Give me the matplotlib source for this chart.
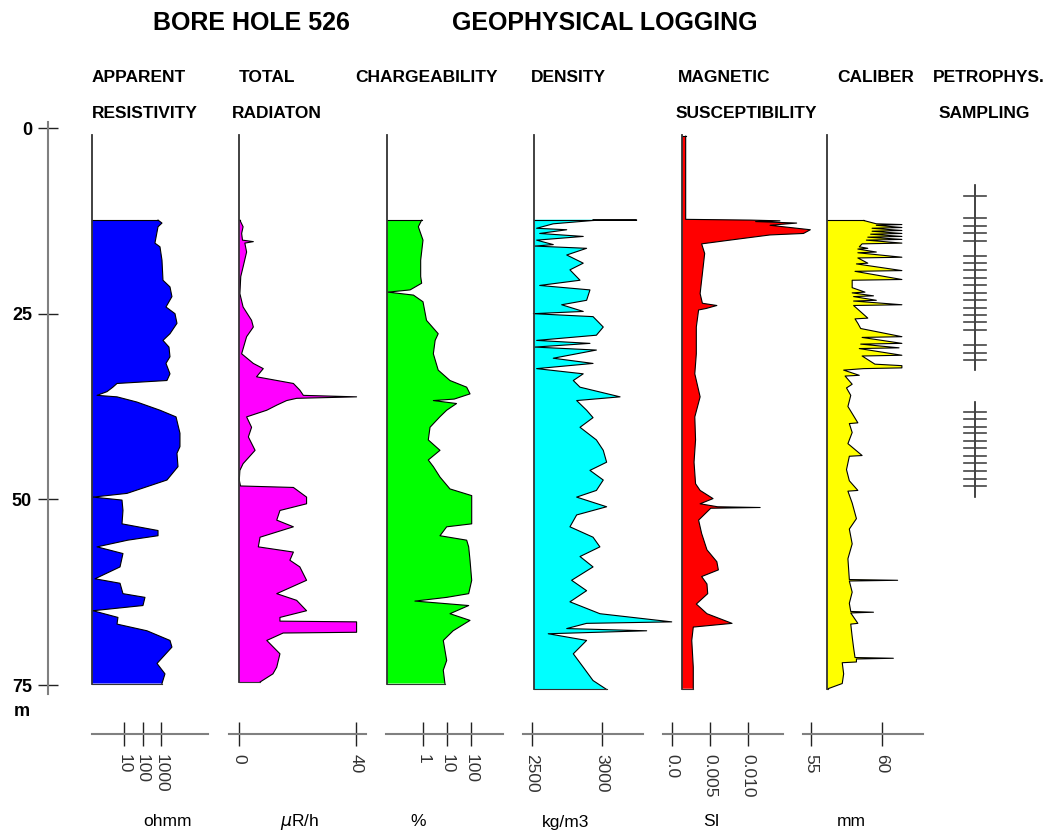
import numpy as np
import matplotlib
matplotlib.use("Agg")
import matplotlib.pyplot as plt
from matplotlib.ticker import NullLocator

# ---------------- data ----------------
res_depth = [12.4, 12.8, 13.3, 15.5, 16.0, 17.8, 20.5, 21.4, 22.7, 24.1, 25.0, 26.3, 27.7, 28.6, 29.5, 30.8, 31.7, 33.1, 34.0, 34.4,
             34.9, 35.5, 36.0, 36.2, 36.9, 38.0, 38.9, 41.1, 42.9, 43.8, 45.6, 47.4, 49.2, 49.7, 50.1, 51.5, 53.3, 54.2, 54.9, 55.5,
             56.4, 57.3, 59.1, 60.7, 61.3, 62.7, 63.2, 64.3, 65.0, 65.9, 66.8, 67.7, 69.0, 69.9, 72.1, 73.5, 74.8]
res_vals = [690, 1130, 690, 470, 880, 1130, 1280, 3060, 3900, 1860, 5700, 7300, 3060, 1280, 2700, 3060, 1860, 3060, 2100, 4.2,
            2.5, 1.2, 0.35, 4.2, 50, 880, 6500, 10600, 10600, 7300, 8300, 2100, 14.5, 0.21, 7.8, 8.8, 7.8, 690, 690, 16,
            0.35, 8.8, 6.1, 0.27, 6.1, 8.8, 136, 106, 0.21, 4.7, 4.2, 175, 3060, 3900, 610, 1640, 1130]

rad_depth = [12.4, 13.3, 14.2, 15.1, 15.3, 15.5, 16.7, 18.7, 20.0, 22.3, 24.1, 25.9, 26.8, 28.1, 30.4, 31.7, 32.4, 33.5, 34.4, 35.3,
             36.0, 36.2, 36.4, 36.7, 37.3, 38.0, 38.9, 40.3, 41.6, 43.4, 45.2, 46.1, 47.4, 48.2, 48.4, 49.7, 50.6, 51.5, 52.8, 53.7,
             55.1, 56.4, 57.1, 58.2, 59.1, 60.9, 62.7, 63.6, 65.0, 65.9, 66.4, 66.5, 67.9, 68.0, 69.0, 70.8, 72.6, 73.5, 74.6]
rad_vals = [0.3, 1.4, 0.9, 1.2, 4.9, 2.0, 2.6, 1.4, 0.6, 0.3, 1.4, 4.3, 4.9, 2.6, 0.9, 4.9, 8.3, 6.0, 18.6, 20.8,
            22.0, 40.2, 19.7, 16.3, 13.0, 9.5, 2.6, 4.3, 3.2, 5.5, 1.4, 0.3, 0.1, 0.5, 18.6, 23.1, 23.1, 14.0, 12.9, 18.6,
            7.2, 6.6, 18.6, 17.4, 20.8, 23.1, 12.9, 19.7, 23.1, 14.0, 14.0, 40.2, 40.2, 15.1, 9.5, 14.0, 12.9, 11.6, 7.2]

chg_depth = [12.4, 13.3, 15.1, 17.8, 20.0, 20.9, 21.8, 22.1, 22.5, 23.4, 25.9, 27.7, 28.6, 30.4, 32.6, 34.0, 34.9, 35.8, 36.5, 36.7,
             37.1, 38.0, 38.9, 40.3, 42.0, 43.4, 44.7, 45.6, 47.0, 48.6, 49.5, 53.3, 53.7, 54.9, 55.5, 56.4, 58.2, 60.9, 62.7, 63.2,
             63.7, 64.3, 65.4, 66.3, 67.7, 69.0, 71.7, 73.0, 74.8]
chg_vals = [0.88, 0.64, 1.0, 0.8, 0.8, 0.88, 0.29, 0.035, 0.4, 1.0, 1.4, 4.3, 3.2, 2.7, 4.3, 13.3, 66, 91, 20, 2.7,
            25, 9.7, 5.0, 1.96, 1.66, 5.1, 1.66, 2.7, 5.1, 13.3, 107, 107, 9.7, 5.1, 66, 80, 91, 107, 80, 9.7,
            0.46, 80, 13.3, 91, 18, 7.0, 9.7, 7.0, 8.2]

den_depth = [12.35, 12.4, 12.45, 12.9, 13.5, 13.7, 14.2, 14.6, 15.1, 15.7, 15.9, 16.2, 17.1, 18.2, 19.1, 20.5, 21.2, 21.8, 23.2, 23.8,
             24.7, 25.0, 25.4, 26.8, 27.9, 28.6, 29.0, 29.5, 29.9, 31.0, 31.7, 32.4, 33.1, 34.0, 34.9, 36.2, 36.7, 38.0, 39.0, 40.3,
             42.0, 43.4, 45.0, 46.1, 47.4, 48.8, 49.7, 51.0, 52.1, 53.7, 55.1, 56.4, 57.7, 59.1, 60.9, 62.3, 63.8, 65.4, 66.5, 66.7,
             67.4, 67.7, 68.1, 69.0, 70.8, 72.6, 74.4, 75.6]
den_vals = [2936, 3248, 2936, 2652, 2533, 2748, 2555, 2866, 2533, 2652, 2520, 2890, 2748, 2866, 2771, 2843, 2555, 2914, 2890, 2712,
            2866, 2510, 2936, 3009, 2960, 2533, 2914, 2520, 2960, 2652, 2936, 2533, 2866, 2795, 2843, 3129, 2819, 2890, 2936, 2843,
            2960, 3009, 3033, 2914, 3009, 2960, 2819, 3033, 2819, 2771, 2936, 2985, 2843, 2936, 2783, 2890, 2771, 2985, 3498, 2890,
            2748, 3319, 2616, 2890, 2795, 2866, 2936, 3033]

mag_depth = [1.1, 12.3, 12.4, 12.5, 12.6, 12.8, 13.1, 13.7, 14.2, 14.4, 15.1, 15.6, 16.9, 18.7, 20.5, 22.3, 23.6, 23.9, 24.3, 24.5,
             26.8, 30.4, 33.1, 36.2, 38.9, 42.0, 45.0, 47.9, 48.8, 49.9, 50.6, 51.0, 51.1, 51.2, 52.8, 54.6, 56.8, 58.4, 59.5, 60.4,
             61.4, 62.7, 64.1, 65.4, 66.7, 67.2, 69.0, 72.6, 75.5]
mag_vals = [0.0018, 0.0018, 0.0103, 0.0142, 0.0110, 0.0164, 0.0129, 0.0182, 0.0173, 0.0129, 0.0076, 0.0039, 0.0043, 0.0041, 0.0039,
            0.0037, 0.0040, 0.0059, 0.0045, 0.0035, 0.0032, 0.0032, 0.0030, 0.0037, 0.0030, 0.0031, 0.0029, 0.0031, 0.0037, 0.0054,
            0.0037, 0.0060, 0.0116, 0.0051, 0.0035, 0.0039, 0.0046, 0.0059, 0.0061, 0.0039, 0.0046, 0.0047, 0.0032, 0.0046, 0.0079,
            0.0028, 0.0026, 0.0028, 0.0028]

cal_depth = [12.45, 12.7, 12.9, 13.0, 13.1, 13.4, 13.5, 13.8, 13.9, 14.2, 14.3, 14.6, 14.7, 15.0, 15.1, 15.5, 15.6, 16.0, 16.2, 16.3,
             16.7, 16.8, 17.4, 17.5, 18.2, 18.3, 19.2, 19.3, 20.4, 20.5, 21.5, 22.1, 22.2, 22.6, 22.7, 23.2, 23.3, 23.8, 23.9, 25.6,
             25.7, 26.3, 27.0, 28.1, 28.2, 29.0, 29.1, 29.6, 29.7, 30.6, 30.7, 31.8, 32.0, 32.3, 32.4, 32.6, 33.3, 33.4, 34.5, 35.0,
             36.0, 37.5, 39.7, 39.8, 41.0, 42.5, 44.1, 44.2, 46.0, 47.5, 48.8, 48.9, 50.5, 52.6, 54.0, 56.0, 58.0, 60.8, 60.9, 61.0,
             62.5, 64.0, 65.1, 65.2, 65.3, 66.7, 66.8, 68.5, 70.0, 71.3, 71.4, 71.5, 71.9, 72.0, 73.5, 74.8, 75.5]
cal_vals = [58.7, 59.2, 59.6, 61.4, 59.6, 61.4, 59.3, 61.4, 59.3, 61.4, 59.2, 61.4, 59.0, 61.4, 58.9, 61.4, 58.6, 58.4, 59.0, 58.3,
            59.6, 58.3, 61.4, 58.3, 59.0, 58.2, 61.4, 58.1, 61.4, 57.9, 57.9, 58.8, 57.9, 59.4, 58.0, 59.6, 58.0, 61.4, 58.0, 59.0,
            58.1, 58.3, 58.5, 61.4, 58.6, 61.4, 58.5, 61.2, 58.4, 61.4, 58.6, 59.5, 61.4, 61.4, 58.7, 57.3, 58.4, 57.4, 57.9, 57.5,
            57.8, 57.6, 58.3, 57.7, 57.9, 57.6, 58.6, 57.7, 57.5, 57.7, 58.3, 57.6, 57.9, 58.2, 57.7, 57.9, 57.6, 57.7, 61.1, 57.7,
            57.9, 57.7, 57.8, 59.4, 57.8, 58.3, 57.8, 57.9, 58.0, 58.1, 60.8, 58.2, 58.2, 57.2, 57.3, 57.2, 56.2]

sampling_group1 = [9.2, 12.1, 13.2, 14.2, 15.2, 17.3, 18.2, 19.1, 20.2, 21.2, 22.2, 23.2, 24.3, 25.2, 26.1, 27.2, 29.2, 30.3, 31.3]
sampling_group2 = [38.3, 39.2, 40.3, 41.1, 42.2, 43.1, 44.2, 45.1, 46.2, 47.2, 48.2]
sampling_spans = [(7.7, 32.6), (36.9, 49.7)]

depth_ticks = [0, 25, 50, 75]

res_ticks, res_ticklabels = [10, 100, 1000], ["10", "100", "1000"]
rad_ticks, rad_ticklabels = [0, 40], ["0", "40"]
chg_ticks, chg_ticklabels = [1, 10, 100], ["1", "10", "100"]
den_ticks, den_ticklabels = [2500, 3000], ["2500", "3000"]
mag_ticks, mag_ticklabels = [0.0, 0.005, 0.010], ["0.0", "0.005", "0.010"]
cal_ticks, cal_ticklabels = [55, 60], ["55", "60"]

# ---------------- layout ----------------
W, H = 1050, 836
FONT = "Liberation Sans"
plt.rcParams["font.family"] = [FONT, "DejaVu Sans"]
fig = plt.figure(figsize=(W / 100, H / 100), dpi=100)
fig.patch.set_facecolor("white")

Y0, Y75 = 128.0, 685.0
PPM = (Y75 - Y0) / 75.0
D_TOP, D_BOT = -1.0, 77.0


def dpx(d):
    return Y0 + d * PPM


def add_axes_px(x0, x1, y0, y1):
    return fig.add_axes([x0 / W, 1 - y1 / H, (x1 - x0) / W, (y1 - y0) / H])


def make_map(kind, pa, va, pb, vb):
    if kind == "log":
        la, lb = np.log10(va), np.log10(vb)
        return lambda p: 10 ** (la + (p - pa) * (lb - la) / (pb - pa))
    return lambda p: va + (p - pa) * (vb - va) / (pb - pa)


tracks = [
    dict(kind="log", a=(124, 10), b=(161, 1000), span=(92, 208), base=92, color="#0000ff",
         depth=res_depth, vals=res_vals, ticks=res_ticks, labels=res_ticklabels, unit="ohmm", ux=167),
    dict(kind="linear", a=(239, 0), b=(356, 40), span=(229, 366), base=239, color="#ff00ff",
         depth=rad_depth, vals=rad_vals, ticks=rad_ticks, labels=rad_ticklabels, unit=r"$\mu$R/h", ux=300),
    dict(kind="log", a=(423, 1), b=(471, 100), span=(386, 503), base=387, color="#00ff00",
         depth=chg_depth, vals=chg_vals, ticks=chg_ticks, labels=chg_ticklabels, unit="%", ux=418),
    dict(kind="linear", a=(532, 2500), b=(602, 3000), span=(523, 643), base=534, color="#00ffff",
         depth=den_depth, vals=den_vals, ticks=den_ticks, labels=den_ticklabels, unit="kg/m3", ux=566),
    dict(kind="linear", a=(672, 0.0), b=(748, 0.010), span=(663, 783), base=682, color="#ff0000",
         depth=mag_depth, vals=mag_vals, ticks=mag_ticks, labels=mag_ticklabels, unit="SI", ux=711),
    dict(kind="linear", a=(811, 55), b=(882, 60), span=(803, 923), base=827, color="#ffff00",
         depth=cal_depth, vals=cal_vals, ticks=cal_ticks, labels=cal_ticklabels, unit="mm", ux=851),
]

SCALE_Y = 733
UNIT_Y = 822

for t in tracks:
    m = make_map(t["kind"], t["a"][0], t["a"][1], t["b"][0], t["b"][1])
    x0, x1 = t["span"]
    xl = (m(x0), m(x1))
    base = m(t["base"])

    ax = add_axes_px(x0, x1, dpx(D_TOP), dpx(D_BOT))
    if t["kind"] == "log":
        ax.set_xscale("log")
    ax.set_xlim(*xl)
    ax.set_ylim(D_BOT, D_TOP)
    ax.axis("off")
    d = np.asarray(t["depth"], float)
    v = np.asarray(t["vals"], float)
    ax.fill_betweenx(d, base, v, facecolor=t["color"], edgecolor="none", clip_on=False, zorder=2)
    ax.plot(v, d, color="black", lw=0.8, clip_on=False, zorder=3)
    ax.plot([base, v[0]], [d[0], d[0]], color="black", lw=0.8, clip_on=False, zorder=3)
    ax.plot([base, v[-1]], [d[-1], d[-1]], color="#333333", lw=0.8, clip_on=False, zorder=3)
    ax.plot([base, base], [1.0, d[-1]], color="#333333", lw=1.3, clip_on=False, zorder=4)

    sax = add_axes_px(x0, x1, SCALE_Y - 0.5, SCALE_Y + 0.5)
    if t["kind"] == "log":
        sax.set_xscale("log")
    sax.set_xlim(*xl)
    sax.set_ylim(0, 1)
    sax.set_facecolor("none")
    for s in ("top", "left", "right"):
        sax.spines[s].set_visible(False)
    sax.spines["bottom"].set_color("#808080")
    sax.spines["bottom"].set_linewidth(1.5)
    sax.set_yticks([])
    sax.set_xticks(t["ticks"])
    sax.set_xticklabels(t["labels"])
    sax.xaxis.set_minor_locator(NullLocator())
    sax.tick_params(axis="x", direction="inout", length=17, width=1.0, color="#222222",
                    labelrotation=-90, labelsize=12.5, pad=6, labelcolor="#333333")
    fig.text(t["ux"] / W, 1 - UNIT_Y / H, t["unit"], ha="center", va="center", fontsize=12.5)

# depth axis
dax = add_axes_px(48, 49, dpx(D_TOP), dpx(D_BOT))
dax.set_ylim(D_BOT, D_TOP)
dax.set_xlim(0, 1)
dax.set_facecolor("none")
for s in ("top", "bottom", "right"):
    dax.spines[s].set_visible(False)
dax.spines["left"].set_color("#808080")
dax.spines["left"].set_linewidth(1.5)
dax.spines["left"].set_bounds(-0.8, 76.2)
dax.set_xticks([])
dax.set_yticks(depth_ticks)
dax.set_yticklabels([str(v) for v in depth_ticks])
dax.tick_params(axis="y", direction="inout", length=15, width=1.0, color="#222222",
                labelsize=13, pad=4)
for lab in dax.get_yticklabels():
    lab.set_fontweight("bold")
fig.text(22 / W, 1 - 711 / H, "m", ha="center", va="center", fontsize=13, fontweight="bold")

# petrophysical sampling
pax = add_axes_px(960, 990, dpx(D_TOP), dpx(D_BOT))
pax.set_xlim(0, 30)
pax.set_ylim(D_BOT, D_TOP)
pax.axis("off")
for (a, b) in sampling_spans:
    pax.plot([15, 15], [a, b], color="#222222", lw=1.2)
for dd in sampling_group1 + sampling_group2:
    pax.plot([4, 26], [dd, dd], color="#444444", lw=1.2)

# titles
fig.text(251 / W, 1 - 23 / H, "BORE HOLE 526", ha="center", va="center", fontsize=18, fontweight="bold")
fig.text(605 / W, 1 - 23 / H, "GEOPHYSICAL LOGGING", ha="center", va="center", fontsize=18, fontweight="bold")

headers = [
    (92, 77, "APPARENT", "left"), (92, 113, "RESISTIVITY", "left"),
    (239, 77, "TOTAL", "left"), (232, 113, "RADIATON", "left"),
    (355, 77, "CHARGEABILITY", "left"),
    (531, 77, "DENSITY", "left"),
    (678, 77, "MAGNETIC", "left"), (676, 113, "SUSCEPTIBILITY", "left"),
    (837, 77, "CALIBER", "left"),
    (1045, 77, "PETROPHYS.", "right"), (1030, 113, "SAMPLING", "right"),
]
for x, y, s, ha in headers:
    fig.text(x / W, 1 - y / H, s, ha=ha, va="center", fontsize=12.5, fontweight="bold")

fig.savefig("out.png", dpi=100, facecolor="white")
